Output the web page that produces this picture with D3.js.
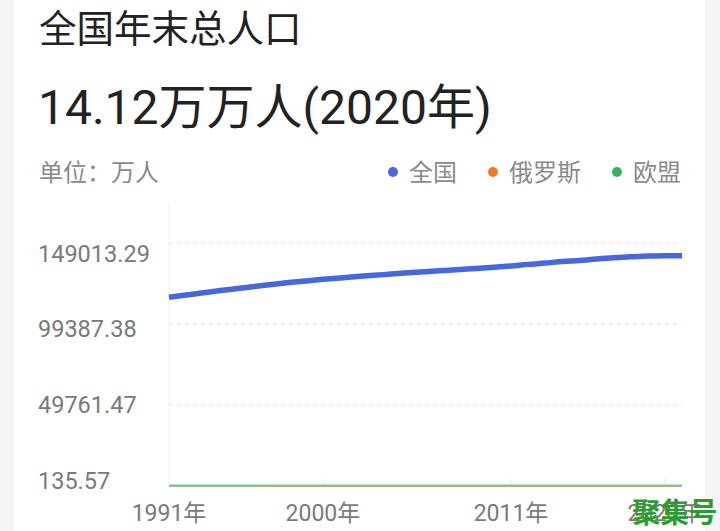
<!DOCTYPE html>
<html>
<head>
<meta charset="utf-8">
<script src="https://cdn.jsdelivr.net/npm/d3@7"></script>
<style>
  body { margin: 0; background: #f5f5f5; }
  svg { display: block; }
</style>
</head>
<body>
<script>
// years on the x axis
let years = d3.range(1991, 2022)
// 全国年末总人口 (万人), census-revised from 2011
let chinaValues = [115823, 117171, 118517, 119850, 121121, 122389, 123626, 124761, 125786, 126743,
  127627, 128453, 129227, 129988, 130756, 131448, 132129, 132802, 133450, 134091,
  134916, 135922, 136726, 137646, 138326, 139232, 140011, 140541, 141008, 141212, 141260]
let russiaValues = [148.6, 148.7, 148.5, 148.3, 148.1, 147.8, 147.5, 147.1, 146.6, 146.0,
  145.6, 145.2, 144.6, 144.1, 143.5, 143.0, 142.8, 142.7, 142.8, 142.8,
  142.9, 143.2, 143.5, 143.8, 144.1, 144.3, 144.5, 144.5, 144.4, 144.1, 143.4]
let euValues = [421.0, 422.5, 424.0, 425.0, 426.0, 426.8, 427.5, 428.0, 428.6, 429.2,
  429.8, 430.5, 431.5, 432.7, 433.9, 434.8, 435.8, 436.8, 437.6, 438.2,
  439.0, 439.6, 440.6, 441.3, 442.1, 443.0, 443.6, 444.6, 446.4, 447.3, 447.0]
let seriesNames = ['全国', '俄罗斯', '欧盟']
let yTicks = [135.57, 49761.47, 99387.38, 149013.29]
let xTickYears = [1991, 2000, 2011, 2020]

function buildChart () {
  var width = 720
  var height = 531
  let colors = ['#4767dc', '#f07a2a', '#7cc497']
  let legendDots = ['#4767dc', '#f07a2a', '#3cae64']
  let font = "Roboto, 'Noto Sans CJK SC', sans-serif"

  var svg = d3.select('body')
    .append('svg')
    .attr('width', width)
    .attr('height', height)

  // white card
  svg.append('rect')
    .attr('x', 14).attr('y', 0)
    .attr('width', 691).attr('height', height)
    .attr('fill', '#fff')

  svg.append('text')
    .attr('x', 39).attr('y', 42)
    .attr('font-family', font).attr('font-size', 37.5)
    .attr('fill', '#222')
    .text('全国年末总人口')

  svg.append('text')
    .attr('x', 38).attr('y', 124)
    .attr('font-family', font).attr('font-size', 48)
    .attr('fill', '#222')
    .text('14.12万万人(2020年)')

  svg.append('text')
    .attr('x', 39).attr('y', 181)
    .attr('font-family', font).attr('font-size', 24)
    .attr('fill', '#8a8a8a')
    .text('单位：万人')

  // legend
  let legendX = [393, 493, 617]
  let legend = svg.selectAll('.legend')
    .data(seriesNames)
    .enter()
    .append('g')
    .attr('class', 'legend')
    .attr('transform', function (d, i) { return 'translate(' + legendX[i] + ',172)' })
  legend.append('circle')
    .attr('r', 5)
    .attr('fill', function (d, i) { return legendDots[i] })
  legend.append('text')
    .attr('x', 16).attr('y', 9)
    .attr('font-family', font).attr('font-size', 24)
    .attr('fill', '#8a8a8a')
    .text(function (d) { return d })

  let x = d3.scalePoint().domain(years).range([169, 682])
  let y = d3.scaleLinear().domain([yTicks[0], yTicks[yTicks.length - 1]]).range([486, 243])
  // labels sit on a slightly tighter spread than the grid
  let yLabel = d3.scaleLinear().domain(y.domain()).range([480, 253])

  // grid lines
  svg.selectAll('.grid')
    .data(yTicks.slice(1))
    .enter()
    .append('line')
    .attr('x1', 169).attr('x2', 682)
    .attr('y1', function (d) { return y(d) })
    .attr('y2', function (d) { return y(d) })
    .attr('stroke', '#e3e3e3')
    .attr('stroke-dasharray', '4,4')

  svg.append('line')
    .attr('x1', 169).attr('x2', 169)
    .attr('y1', 203).attr('y2', 486)
    .attr('stroke', '#efefef')

  svg.selectAll('.ylab')
    .data(yTicks)
    .enter()
    .append('text')
    .attr('x', 38)
    .attr('y', function (d) { return yLabel(d) + 8.5 })
    .attr('font-family', font).attr('font-size', 23.5)
    .attr('fill', '#7a7a7a')
    .text(function (d) { return d3.format('.2f')(d) })

  // x ticks and labels
  svg.selectAll('.xtick')
    .data(xTickYears.slice(1))
    .enter()
    .append('line')
    .attr('x1', function (d) { return x(d) })
    .attr('x2', function (d) { return x(d) })
    .attr('y1', 479).attr('y2', 486)
    .attr('stroke', '#eaeaea')

  svg.selectAll('.xlab')
    .data(xTickYears)
    .enter()
    .append('text')
    .attr('x', function (d) { return x(d) })
    .attr('y', 521)
    .attr('text-anchor', 'middle')
    .attr('font-family', font).attr('font-size', 23)
    .attr('fill', '#7a7a7a')
    .text(function (d) { return d + '年' })

  let line = d3.line()
    .x(function (d, i) { return x(years[i]) })
    .y(function (d) { return y(Math.max(d, yTicks[0])) })
    .curve(d3.curveMonotoneX)

  let allSeries = [chinaValues, russiaValues, euValues]
  let widths = [5.5, 1.5, 2.2]
  ;[1, 2, 0].forEach(function (k) {
    svg.append('path')
      .datum(allSeries[k])
      .attr('d', line)
      .attr('fill', 'none')
      .attr('stroke', colors[k])
      .attr('stroke-width', widths[k])
      .attr('stroke-linejoin', 'round')
  })

  // watermark
  svg.append('text')
    .attr('x', 632).attr('y', 523)
    .attr('font-family', "'Noto Sans CJK SC', sans-serif")
    .attr('font-weight', 'bold')
    .attr('font-size', 28.5)
    .attr('fill', '#2f9a33')
    .text('聚集号')
}

buildChart()
</script>
</body>
</html>
